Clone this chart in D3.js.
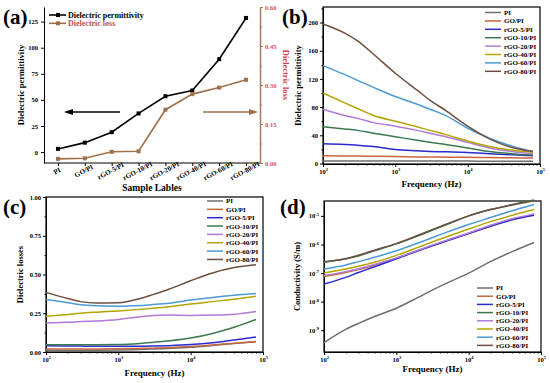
<!DOCTYPE html>
<html>
<head>
<meta charset="utf-8">
<script src="https://cdn.jsdelivr.net/npm/d3@7"></script>
<style>
  body { margin: 0; background: #fff; }
  text { font-family: "Liberation Serif", "Times New Roman", serif; font-weight: bold; }
</style>
</head>
<body>
<svg id="fig" width="550" height="383"></svg>
<script>
// ---- data ----
var samples = ['PI', 'GO/PI', 'rGO-5/PI', 'rGO-10/PI', 'rGO-20/PI', 'rGO-40/PI', 'rGO-60/PI', 'rGO-80/PI'];
var permittivity = [3, 9, 19, 37, 53.5, 59, 89, 128.5];
var lossBySample = [0.016, 0.018, 0.043, 0.045, 0.205, 0.265, 0.29, 0.32];
var seriesColors = ['#6e6e6e', '#c8643c', '#2a2ad0', '#3c7a4e', '#b07ad8', '#b4a400', '#4c9ad4', '#6e4e40'];

var freq = [100, 200, 300, 500, 1000, 2000, 3000, 5000, 10000, 20000, 40000, 80000];

// (b) dielectric permittivity vs frequency, one row per sample
var permFreq = [
  [3.5, 3.5, 3.5, 3.5, 3.5, 3.5, 3.4, 3.4, 3.4, 3.3, 3.3, 3.3],
  [11, 10.7, 10.5, 10.2, 9.8, 9.4, 9.2, 9, 8.7, 8.4, 8.1, 7.8],
  [28, 27, 26, 24, 20, 18, 17, 16.5, 15.5, 14, 12.5, 11],
  [52, 49, 47, 43, 38, 33, 30, 27, 22, 17, 14, 12],
  [77, 68, 64, 58, 53, 47, 43, 38, 30, 22, 17, 14],
  [100, 86, 78, 68, 60, 52, 47, 41, 32, 24, 19, 16],
  [139, 126, 118, 108, 95, 84, 77, 68, 50, 36, 25, 17],
  [198, 185, 174, 155, 128, 104, 90, 75, 53, 35, 23, 17]
];

// (c) dielectric losses vs frequency
var lossFreq = [
  [0.010, 0.010, 0.010, 0.011, 0.013, 0.016, 0.019, 0.023, 0.030, 0.042, 0.055, 0.066],
  [0.020, 0.020, 0.020, 0.020, 0.021, 0.023, 0.025, 0.028, 0.035, 0.045, 0.057, 0.068],
  [0.040, 0.039, 0.038, 0.037, 0.037, 0.037, 0.038, 0.041, 0.048, 0.060, 0.078, 0.097],
  [0.047, 0.047, 0.047, 0.047, 0.048, 0.055, 0.062, 0.072, 0.090, 0.120, 0.160, 0.210],
  [0.187, 0.192, 0.196, 0.200, 0.210, 0.228, 0.235, 0.238, 0.236, 0.238, 0.244, 0.262],
  [0.230, 0.242, 0.250, 0.257, 0.265, 0.275, 0.282, 0.292, 0.310, 0.325, 0.340, 0.360],
  [0.338, 0.318, 0.305, 0.298, 0.295, 0.300, 0.306, 0.315, 0.335, 0.352, 0.366, 0.377],
  [0.385, 0.345, 0.325, 0.316, 0.318, 0.345, 0.370, 0.405, 0.460, 0.510, 0.545, 0.563]
];

// (d) conductivity vs frequency, as log10 of S/m
var condLogFreq = [
  [-9.43, -8.97, -8.76, -8.52, -8.23, -7.85, -7.62, -7.35, -7.0, -6.6, -6.25, -5.93],
  [-7.12, -6.98, -6.88, -6.72, -6.48, -6.22, -6.06, -5.87, -5.62, -5.36, -5.12, -4.96],
  [-7.38, -7.15, -6.98, -6.78, -6.5, -6.22, -6.06, -5.87, -5.62, -5.36, -5.14, -4.98],
  [-6.62, -6.5, -6.4, -6.22, -5.98, -5.7, -5.52, -5.3, -5.0, -4.78, -4.6, -4.44],
  [-7.08, -6.95, -6.85, -6.7, -6.47, -6.2, -6.04, -5.85, -5.6, -5.33, -5.1, -4.93],
  [-7.0, -6.86, -6.76, -6.62, -6.38, -6.1, -5.93, -5.73, -5.46, -5.2, -4.98, -4.78],
  [-6.86, -6.72, -6.6, -6.45, -6.22, -5.95, -5.78, -5.57, -5.3, -5.06, -4.82, -4.6],
  [-6.6, -6.5, -6.38, -6.2, -5.97, -5.68, -5.5, -5.28, -5.0, -4.78, -4.62, -4.47]
];

var permTicks = [0, 25, 50, 75, 100, 125];
var lossTicks = [0, 0.15, 0.3, 0.45, 0.6];
var permFreqTicks = [0, 40, 80, 120, 160, 200];
var lossFreqTicks = [0, 0.25, 0.5, 0.75, 1];
var freqTicks = [1e2, 1e3, 1e4, 1e5];
var condTicks = [1e-9, 1e-8, 1e-7, 1e-6, 1e-5];

var svg = d3.select('#fig');

function tidyAxis(g, size) {
  g.attr('font-size', size).attr('font-family', null);
  g.selectAll('.domain').attr('stroke-width', 1);
  g.selectAll('.tick line').attr('stroke-width', 1);
}

// "10" with the exponent raised
function powerLabels(g) {
  g.selectAll('.tick text').text(null).each(function(d) {
    var t = d3.select(this);
    t.append('tspan').text('10');
    t.append('tspan').attr('dy', -2.5).attr('font-size', 4.5).text(Math.round(Math.log10(d)));
  });
}

function logMinors(domain) {
  var out = [];
  var lo = Math.floor(Math.log10(domain[0])), hi = Math.ceil(Math.log10(domain[1]));
  for (var e = lo; e <= hi; e++) {
    for (var k = 2; k <= 9; k++) {
      var v = k * Math.pow(10, e);
      if (v >= domain[0] && v <= domain[1]) out.push(v);
    }
  }
  return out;
}

function letter(s, x, y) {
  svg.append('text').attr('x', x).attr('y', y).attr('font-size', 21).text(s);
}

// ---------------- (a) ----------------
(function() {
  var x0 = 44, x1 = 260, y0 = 7, y1 = 163;
  var x = d3.scalePoint().domain(samples).range([x0, x1]).padding(0.52);
  var yL = d3.scaleLinear().domain([-10.5, 139]).range([y1, y0]);
  var yR = d3.scaleLinear().domain([0, 0.6]).range([y1, y0]);
  var brown = '#a0704a';
  var g = svg.append('g');

  // bottom axis
  var gx = g.append('g').attr('transform', 'translate(0,' + y1 + ')')
    .call(d3.axisBottom(x).tickSize(3).tickSizeOuter(0).tickFormat(''));
  tidyAxis(gx, 7);
  gx.select('.domain').attr('d', 'M' + x0 + ',0H' + x1);
  g.selectAll('.xlab').data(samples).enter().append('text')
    .attr('font-size', 7).attr('text-anchor', 'middle')
    .attr('transform', function(d) { return 'translate(' + x(d) + ',' + 173 + ') rotate(-28)'; })
    .text(function(d) { return d; });

  var gl = g.append('g').attr('transform', 'translate(' + x0 + ',0)')
    .call(d3.axisLeft(yL).tickValues(permTicks).tickSize(3).tickSizeOuter(0).tickPadding(3));
  tidyAxis(gl, 6.5);

  var gr = g.append('g').attr('transform', 'translate(' + x1 + ',0)')
    .call(d3.axisRight(yR).tickValues(lossTicks).tickSize(3).tickSizeOuter(0).tickPadding(2)
      .tickFormat(d3.format('.2f')));
  tidyAxis(gr, 6.5);
  gr.select('.domain').attr('stroke', '#a47a60').attr('stroke-width', 1.5);
  gr.selectAll('.tick line').attr('stroke', '#a47a60');
  gr.selectAll('.tick text').attr('fill', '#d8505e');
  var grm = g.append('g').attr('transform', 'translate(' + x1 + ',0)')
    .call(d3.axisRight(yR).tickValues([0.075, 0.225, 0.375, 0.525]).tickSize(2).tickFormat(''));
  grm.select('.domain').remove();
  grm.selectAll('.tick line').attr('stroke', '#a47a60');

  // series
  var permLine = d3.line().x(function(d, i) { return x(samples[i]); }).y(function(d) { return yL(d); });
  var lossLine = d3.line().x(function(d, i) { return x(samples[i]); }).y(function(d) { return yR(d); });
  g.append('path').attr('d', lossLine(lossBySample)).attr('fill', 'none').attr('stroke', brown).attr('stroke-width', 1.6);
  g.append('path').attr('d', permLine(permittivity)).attr('fill', 'none').attr('stroke', '#000').attr('stroke-width', 1.6);
  g.selectAll('.mp').data(permittivity).enter().append('rect')
    .attr('x', function(d, i) { return x(samples[i]) - 2; }).attr('y', function(d) { return yL(d) - 2; })
    .attr('width', 4).attr('height', 4).attr('fill', '#000');
  g.selectAll('.ml').data(lossBySample).enter().append('rect')
    .attr('x', function(d, i) { return x(samples[i]) - 2; }).attr('y', function(d) { return yR(d) - 2; })
    .attr('width', 4).attr('height', 4).attr('fill', brown);

  // arrows
  function arrow(xa, xb, y, col) {
    var dir = xb > xa ? 1 : -1;
    g.append('line').attr('x1', xa).attr('x2', xb - dir * 7).attr('y1', y).attr('y2', y)
      .attr('stroke', col).attr('stroke-width', 1.5);
    g.append('path').attr('d', 'M' + xb + ',' + y + 'L' + (xb - dir * 9) + ',' + (y - 3) + 'L' + (xb - dir * 9) + ',' + (y + 3) + 'Z')
      .attr('fill', col);
  }
  arrow(120, 64, 112, '#000');
  arrow(203, 258, 112, brown);

  // legend
  [['Dielectric permittivity', '#000', '#000'], ['Dielectric loss', brown, '#c0504a']].forEach(function(r, i) {
    var y = 15 + i * 8.3;
    g.append('line').attr('x1', 49).attr('x2', 66).attr('y1', y).attr('y2', y).attr('stroke', r[1]).attr('stroke-width', 1.6);
    g.append('rect').attr('x', 56).attr('y', y - 2).attr('width', 4).attr('height', 4).attr('fill', r[1]);
    g.append('text').attr('x', 68).attr('y', y).attr('dy', '0.35em').attr('font-size', 8).attr('fill', r[2]).text(r[0]);
  });

  g.append('text').attr('transform', 'translate(24,' + (y0 + y1) / 2 + ') rotate(-90)')
    .attr('text-anchor', 'middle').attr('font-size', 8.5).text('Dielectric permittivity');
  g.append('text').attr('transform', 'translate(283,75) rotate(90)')
    .attr('text-anchor', 'middle').attr('font-size', 8.5).attr('fill', '#d04048').text('Dielectric loss');
  g.append('text').attr('x', 152).attr('y', 191).attr('text-anchor', 'middle').attr('font-size', 9.5).text('Sample Lables');
  letter('(a)', 3, 24);
})();

// ---------------- frequency panels (b), (c), (d) ----------------
function freqPanel(o) {
  var g = svg.append('g');
  var x = d3.scaleLog().domain([1e2, 1e5]).range([o.x0, o.x1]);
  var y = o.y;

  var gx = g.append('g').attr('transform', 'translate(0,' + o.y1 + ')')
    .call(d3.axisBottom(x).tickValues(freqTicks).tickSize(3).tickSizeOuter(0).tickPadding(2));
  tidyAxis(gx, 6.5);
  powerLabels(gx);
  var gxm = g.append('g').attr('transform', 'translate(0,' + o.y1 + ')')
    .call(d3.axisBottom(x).tickValues(logMinors(x.domain())).tickSize(1.5).tickFormat(''));
  gxm.select('.domain').remove();

  var ya = d3.axisLeft(y).tickValues(o.yTicks).tickSize(3).tickSizeOuter(0).tickPadding(2);
  if (o.yFormat) ya.tickFormat(o.yFormat);
  var gy = g.append('g').attr('transform', 'translate(' + o.x0 + ',0)').call(ya);
  tidyAxis(gy, 6.5);
  if (o.yPower) powerLabels(gy);
  if (o.yMinor) {
    var gym = g.append('g').attr('transform', 'translate(' + o.x0 + ',0)')
      .call(d3.axisLeft(y).tickValues(o.yMinor).tickSize(1.5).tickFormat(''));
    gym.select('.domain').remove();
  }

  g.append('rect').attr('x', o.x0).attr('y', o.y0).attr('width', o.x1 - o.x0).attr('height', o.y1 - o.y0)
    .attr('fill', 'none').attr('stroke', '#000').attr('stroke-width', 1.2);

  var line = d3.line()
    .x(function(d, i) { return x(freq[i]); })
    .y(function(d) { return y(o.value(d)); })
    .curve(d3.curveMonotoneX);
  g.selectAll('.series').data(o.data).enter().append('path')
    .attr('d', line).attr('fill', 'none')
    .attr('stroke', function(d, i) { return seriesColors[i]; }).attr('stroke-width', 1.5);

  samples.forEach(function(s, i) {
    var ly = o.legY + i * o.legStep;
    g.append('line').attr('x1', o.legX).attr('x2', o.legX + 16).attr('y1', ly).attr('y2', ly)
      .attr('stroke', seriesColors[i]).attr('stroke-width', 1.5);
    g.append('text').attr('x', o.legX + 19).attr('y', ly).attr('dy', '0.35em').attr('font-size', 7).text(s);
  });

  g.append('text').attr('transform', 'translate(' + o.ylabX + ',' + (o.y0 + o.y1) / 2 + ') rotate(-90)')
    .attr('text-anchor', 'middle').attr('font-size', 8.5).text(o.ylab);
  g.append('text').attr('x', (o.x0 + o.x1) / 2).attr('y', o.xlabY).attr('text-anchor', 'middle')
    .attr('font-size', 9).text('Frequency (Hz)');
}

var ident = function(d) { return d; };

freqPanel({
  x0: 323, x1: 540, y0: 7, y1: 164,
  y: d3.scaleLinear().domain([-0.7, 222]).range([164, 7]),
  yTicks: permFreqTicks, yMinor: [20, 60, 100, 140, 180, 220],
  data: permFreq, value: ident,
  legX: 485, legY: 12.5, legStep: 8.4,
  ylab: 'Dielectric permittivity', ylabX: 301, xlabY: 187
});
letter('(b)', 282, 24);

freqPanel({
  x0: 46, x1: 263, y0: 197, y1: 352,
  y: d3.scaleLinear().domain([0, 1]).range([352, 197]),
  yTicks: lossFreqTicks, yMinor: [0.125, 0.375, 0.625, 0.875], yFormat: d3.format('.2f'),
  data: lossFreq, value: ident,
  legX: 207, legY: 201, legStep: 8.35,
  ylab: 'Dielectric losses', ylabX: 23, xlabY: 376
});
letter('(c)', 3, 214);

freqPanel({
  x0: 324, x1: 541, y0: 201, y1: 352,
  y: d3.scaleLog().domain([Math.pow(10, -9.76), Math.pow(10, -4.48)]).range([352, 201]),
  yTicks: condTicks, yPower: true,
  data: condLogFreq, value: function(d) { return Math.pow(10, d); },
  legX: 477, legY: 288, legStep: 8.2,
  ylab: 'Conductivity (S/m)', ylabX: 300, xlabY: 372
});
letter('(d)', 280, 214);
</script>
</body>
</html>
